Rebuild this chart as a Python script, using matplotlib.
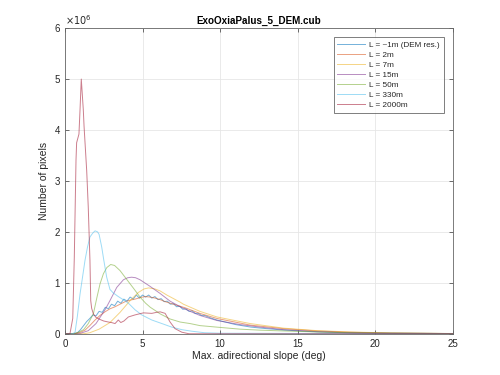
import matplotlib
matplotlib.use("Agg")
import matplotlib.pyplot as plt

plt.rcParams['font.family'] = ['Liberation Sans', 'DejaVu Sans']

labels = ["L = ~1m (DEM res.)", "L = 2m", "L = 7m", "L = 15m", "L = 50m", "L = 330m", "L = 2000m"]
colors = ["#0072BD", "#D95319", "#EDB120", "#7E2F8E", "#77AC30", "#4DBEEE", "#A2142F"]

x_1m = [0, 0.6, 0.8, 1.0, 1.2, 1.4, 1.6, 1.8, 2.0, 2.2, 2.4, 2.6, 2.8, 3.0, 3.2, 3.4, 3.6, 3.8, 4.0,
        4.2, 4.4, 4.6, 4.8, 5.0, 5.2, 5.4, 5.6, 5.8, 6.0, 6.2, 6.4, 6.6, 6.8, 7.0, 7.2, 7.4, 7.6,
        7.8, 8.0, 8.2, 8.4, 8.6, 8.8, 9.0, 9.4, 9.8, 10.2, 11, 12, 13, 14, 16, 18, 20, 25]
y_1m = [0, 0.0, 0.02, 0.08, 0.16, 0.24, 0.3, 0.37, 0.35, 0.44, 0.42, 0.52, 0.49, 0.58, 0.55, 0.64,
        0.6, 0.68, 0.64, 0.72, 0.68, 0.76, 0.7, 0.76, 0.72, 0.76, 0.7, 0.73, 0.67, 0.69, 0.63, 0.64,
        0.58, 0.59, 0.53, 0.54, 0.48, 0.49, 0.44, 0.45, 0.4, 0.4, 0.36, 0.36, 0.31, 0.27, 0.24, 0.18,
        0.13, 0.1, 0.075, 0.04, 0.02, 0.012, 0.004]

x_2m = [0, 0.6, 1.0, 1.29, 1.6, 1.94, 2.26, 2.58, 2.9, 3.23, 3.55, 3.88, 4.2, 4.52, 4.85, 5.17, 5.5,
        5.81, 6.14, 6.46, 7.1, 7.75, 8.7, 9.8, 11.95, 14.1, 16.3, 18.4, 21, 25]
y_2m = [0, 0.0, 0.03, 0.07, 0.16, 0.27, 0.36, 0.43, 0.49, 0.53, 0.58, 0.63, 0.66, 0.68, 0.71, 0.73,
        0.72, 0.7, 0.67, 0.63, 0.57, 0.51, 0.4, 0.3, 0.17, 0.1, 0.055, 0.03, 0.012, 0.004]

x_7m = [0, 1.2, 1.6, 2.2, 2.9, 3.55, 4.2, 4.73, 5.1, 5.4, 5.8, 6.14, 6.57, 7.43, 7.64, 8.7, 9.8,
        11.95, 14.1, 16.3, 18.4, 21, 25]
y_7m = [0, 0, 0.02, 0.09, 0.22, 0.42, 0.65, 0.81, 0.88, 0.9, 0.88, 0.84, 0.76, 0.62, 0.58, 0.44,
        0.33, 0.2, 0.11, 0.06, 0.035, 0.015, 0.004]

x_15m = [0, 1.0, 1.5, 2.0, 2.26, 2.6, 2.9, 3.34, 3.77, 4.05, 4.3, 4.55, 4.84, 5.49, 6.14, 6.78,
         7.43, 8.07, 8.7, 9.8, 11.3, 12.6, 14.1, 16.3, 18.5, 21, 25]
y_15m = [0, 0.01, 0.06, 0.2, 0.32, 0.48, 0.65, 0.91, 1.06, 1.1, 1.11, 1.1, 1.06, 0.93, 0.79, 0.64,
         0.53, 0.44, 0.36, 0.26, 0.18, 0.13, 0.08, 0.04, 0.02, 0.01, 0.004]

x_50m = [0, 0.5, 0.8, 1.2, 1.5, 1.83, 2.05, 2.26, 2.48, 2.7, 2.95, 3.2, 3.55, 3.9, 4.2, 4.5, 4.84,
         5.2, 5.5, 5.8, 6.14, 6.78, 7.43, 8.07, 8.7, 9.8, 11.3, 12.6, 14.1, 16.3, 18.5, 21, 25]
y_50m = [0, 0.0, 0.02, 0.08, 0.2, 0.39, 0.7, 0.98, 1.18, 1.3, 1.36, 1.34, 1.24, 1.1, 0.98, 0.86,
         0.72, 0.6, 0.52, 0.46, 0.39, 0.29, 0.23, 0.2, 0.16, 0.13, 0.09, 0.07, 0.055, 0.035, 0.02,
         0.012, 0.005]

x_330m = [0, 0.5, 0.65, 0.8, 0.97, 1.15, 1.29, 1.45, 1.61, 1.8, 1.94, 2.1, 2.2, 2.37, 2.5, 2.69,
          2.9, 3.12, 3.44, 3.8, 4.09, 4.52, 4.95, 5.6, 6.25, 6.89, 7.54, 8.18, 9, 10, 25]
y_330m = [0, 0, 0.03, 0.35, 0.78, 1.15, 1.44, 1.7, 1.9, 1.98, 2.02, 2.0, 1.95, 1.7, 1.45, 1.11,
          0.87, 0.8, 0.73, 0.66, 0.6, 0.47, 0.37, 0.27, 0.2, 0.13, 0.08, 0.05, 0.02, 0.01, 0]

x_2000m = [0, 0.32, 0.5, 0.6, 0.71, 0.75, 0.9, 0.97, 1.05, 1.18, 1.23, 1.4, 1.5, 1.61, 1.66, 1.72,
           1.83, 2.0, 2.26, 2.5, 2.8, 3.0, 3.23, 3.44, 3.6, 3.8, 4.09, 4.52, 5.06, 5.6, 5.9, 6.14,
           6.46, 6.78, 7.1, 7.54, 8.0, 10, 15, 25]
y_2000m = [0, 0.0, 0.3, 1.5, 3.41, 3.75, 3.92, 4.4, 5.0, 4.4, 4.07, 3.2, 2.49, 1.44, 0.65, 0.5,
           0.39, 0.32, 0.28, 0.25, 0.23, 0.22, 0.2, 0.27, 0.22, 0.25, 0.33, 0.37, 0.41, 0.40, 0.42,
           0.43, 0.40, 0.23, 0.1, 0.03, 0.0, 0, 0, 0]

series = [(x_1m, y_1m), (x_2m, y_2m), (x_7m, y_7m), (x_15m, y_15m),
          (x_50m, y_50m), (x_330m, y_330m), (x_2000m, y_2000m)]

xticks = [0, 5, 10, 15, 20, 25]
yticks = [0, 1, 2, 3, 4, 5, 6]

txt = '#262626'
fig = plt.figure(figsize=(5, 3.75), dpi=100)
ax = fig.add_axes([0.13, 0.11, 0.775, 0.815])

for (xs, ys), c, lab in zip(series, colors, labels):
    ax.plot(xs, ys, color=c, alpha=0.55, lw=0.7, label=lab)

ax.set_xlim(0, 25)
ax.set_ylim(0, 6)
ax.set_xticks(xticks)
ax.set_yticks(yticks)
ax.set_yticklabels([str(v) for v in yticks])
ax.grid(True, color='#e6e6e6', lw=0.6)
ax.set_axisbelow(True)
ax.tick_params(direction='in', length=3, width=0.6, colors='#555555', labelcolor=txt,
               labelsize=7, top=True, right=True)
for s in ax.spines.values():
    s.set_color('#666666')
    s.set_linewidth(0.6)

ax.text(0.0, 1.005, r'$\times10^6$', transform=ax.transAxes, fontsize=7, color=txt,
        ha='left', va='bottom')
ax.set_title('ExoOxiaPalus_5_DEM.cub', fontsize=7.1, fontweight='bold', color='black', pad=3)
ax.set_xlabel('Max. adirectional slope (deg)', fontsize=7.5, color=txt, labelpad=2)
ax.set_ylabel('Number of pixels', fontsize=7.5, color=txt, labelpad=4)

leg = ax.legend(loc='upper right', fontsize=5.9, frameon=True, fancybox=False,
                borderpad=0.45, labelspacing=0.28, handlelength=3.4, handletextpad=0.5,
                borderaxespad=0, bbox_to_anchor=(0.977, 0.970))
leg.get_frame().set_edgecolor('#444444')
leg.get_frame().set_linewidth(0.6)
for t in leg.get_texts():
    t.set_color(txt)

fig.savefig('out.png', dpi=100)
